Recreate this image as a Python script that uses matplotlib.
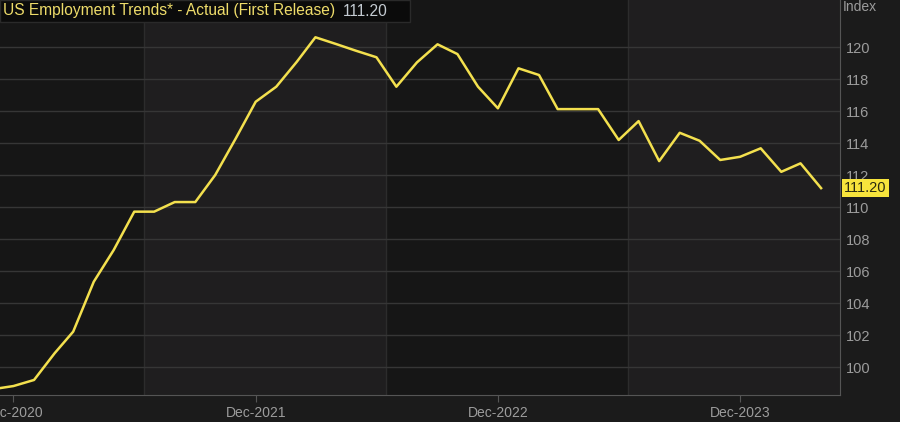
"""
plot.py - US Employment Trends index, dark terminal-style chart
"""
import pandas as pd
import matplotlib.pyplot as plt

plt.rcParams['font.family'] = ['Liberation Sans', 'DejaVu Sans']

# monthly values, Nov 2020 .. Apr 2024
months = pd.date_range('2020-11-01', periods=42, freq='MS')
values = [98.64, 98.83, 99.21, 100.88, 102.23, 105.35, 107.33, 109.73, 109.73, 110.33,
          110.33, 112.02, 114.31, 116.60, 117.54, 119.10, 120.63, 120.21, 119.79, 119.38,
          117.54, 119.06, 120.19, 119.58, 117.54, 116.19, 118.69, 118.27, 116.14, 116.14,
          116.14, 114.21, 115.39, 112.89, 114.66, 114.16, 112.96, 113.16, 113.69, 112.22,
          112.75, 111.20]

tick_dates = pd.to_datetime(['2020-12-01', '2021-12-01', '2022-12-01', '2023-12-01'])
tick_labels = ['Dec-2020', 'Dec-2021', 'Dec-2022', 'Dec-2023']
band_starts = pd.to_datetime(['2021-06-15', '2023-06-15'])
band_ends = pd.to_datetime(['2022-06-15', '2024-06-15'])
y_ticks = list(range(100, 121, 2))

title = 'US Employment Trends* - Actual (First Release)'
last_value = '111.20'

bg = '#1b1b1b'
dark = '#161616'
light = '#1f1e1f'
grid = '#363636'
txt = '#9c9c9c'
yellow = '#f3e04e'

fig = plt.figure(figsize=(9, 4.22), dpi=100, facecolor=bg)
ax = fig.add_axes([0, 27 / 422, 840 / 900, 395 / 422])
ax.set_facecolor(dark)

for s, e in zip(band_starts, band_ends):
    ax.axvspan(s, e, color=light, zorder=0, lw=0)
    ax.axvline(s, color='#2c2c2c', lw=1, zorder=1)
    ax.axvline(e, color='#2c2c2c', lw=1, zorder=1)

ax.plot(months, values, color=yellow, lw=1.8, zorder=3)

# x range: Dec-2020 tick sits ~13px in from the left edge
x0 = pd.Timestamp('2020-12-01') - pd.Timedelta(days=20.3)
x1 = pd.Timestamp('2024-04-01') + pd.Timedelta(days=28.5)
ax.set_xlim(x0, x1)
ax.set_ylim(98.27, 122.96)

ax.yaxis.tick_right()
ax.set_yticks(y_ticks)
ax.set_yticklabels([str(v) for v in y_ticks])
ax.grid(axis='y', color=grid, lw=1, zorder=1)
ax.tick_params(axis='y', length=0, pad=4, labelsize=10.5, labelcolor=txt)

ax.set_xticks(tick_dates)
ax.set_xticklabels(tick_labels)
ax.tick_params(axis='x', length=5, color='#555555', pad=3, labelsize=10, labelcolor=txt)

for side in ['top', 'left']:
    ax.spines[side].set_visible(False)
ax.spines['right'].set_color('#555555')
ax.spines['bottom'].set_color('#555555')

# title box top-left
fig.patches.append(plt.Rectangle((0, 1 - 22 / 422), 410 / 900, 22 / 422,
                                 transform=fig.transFigure, facecolor='#0b0b0b',
                                 edgecolor='#2a2a2a', lw=1, zorder=5))
t = fig.text(3 / 900, 1 - 11 / 422, title, color='#eedc6a', fontsize=11.2,
             va='center', ha='left', zorder=6)
fig.canvas.draw()
bb = t.get_window_extent()
fig.text((bb.x1 + 8) / 900, 1 - 11 / 422, last_value, color='#c4cbd2', fontsize=11.2,
         va='center', ha='left', zorder=6)

fig.text(843 / 900, 1 - 7 / 422, 'Index', color=txt, fontsize=10, va='center', ha='left')

# last value tag on the axis
ax.annotate(last_value, xy=(1, values[-1]), xycoords=('axes fraction', 'data'),
            xytext=(3, 0), textcoords='offset points', va='center', ha='left',
            fontsize=10.5, color='#2a2a10',
            bbox=dict(boxstyle='square,pad=0.15', fc='#f7e43c', ec='none'),
            annotation_clip=False, zorder=7)

fig.savefig('out.png', dpi=100, facecolor=bg)
